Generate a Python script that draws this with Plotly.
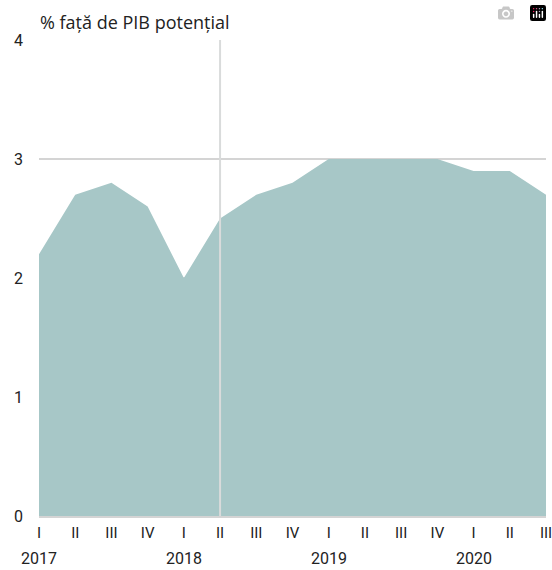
import plotly.graph_objects as go

quarters = ['I', 'II', 'III', 'IV', 'I', 'II', 'III', 'IV',
            'I', 'II', 'III', 'IV', 'I', 'II', 'III']
years = ['2017', '', '', '', '2018', '', '', '', '2019', '', '', '', '2020', '', '']
values = [2.2, 2.7, 2.8, 2.6, 2.0, 2.5, 2.7, 2.8, 3.0, 3.0, 3.0, 3.0, 2.9, 2.9, 2.7]

x = list(range(len(values)))

tick_font = dict(family='Liberation Sans Narrow, Roboto', size=15, color='#222222')

fig = go.Figure()
fig.add_trace(go.Scatter(
    x=x,
    y=values,
    mode='lines',
    line=dict(width=0, color='#a7c7c7'),
    fill='tozeroy',
    fillcolor='#a7c7c7',
    hoverinfo='skip'
))

# vertical marker at 2018 Q2
fig.add_shape(type='line', x0=5, x1=5, y0=0, y1=4, xref='x', yref='y',
              line=dict(color='#d9dbdb', width=2), layer='above')

fig.add_annotation(
    text='% față de PIB potențial',
    xref='paper', yref='paper', x=0, y=1, xanchor='left', yanchor='bottom',
    xshift=-1, yshift=4, showarrow=False,
    font=dict(family='Open Sans', size=18, color='#222222')
)

# year labels under first quarter of each year
for xi, yr in zip(x, years):
    if yr:
        fig.add_annotation(
            text=yr, xref='x', yref='paper', x=xi, y=0,
            xanchor='center', yanchor='middle', yshift=-42,
            showarrow=False, font=dict(tick_font, size=16)
        )

fig.update_xaxes(
    range=[0, 14],
    tickvals=x,
    ticktext=quarters,
    showgrid=False,
    zeroline=False,
    showline=True,
    linecolor='#d4d4d4',
    linewidth=2,
    ticks='',
    automargin=False,
    ticklabelstandoff=2,
    ticklabeloverflow='allow',
    tickfont=tick_font,
    fixedrange=True
)
fig.update_yaxes(
    range=[0, 4],
    tickvals=[0, 1, 2, 3, 4],
    showgrid=True,
    gridcolor='#d4d4d4',
    gridwidth=2,
    zeroline=False,
    ticks='',
    automargin=False,
    ticklabelstandoff=15,
    tickfont=dict(tick_font, size=16),
    fixedrange=True
)

fig.update_layout(
    width=552,
    height=570,
    margin=dict(l=39, r=6, t=40, b=54),
    plot_bgcolor='white',
    paper_bgcolor='white',
    showlegend=False
)

# drop the default page margin so the figure fills the window exactly
fig.write_html("out.html",
               post_script="document.body.style.margin='0';"
                           "document.body.style.overflow='hidden';")
